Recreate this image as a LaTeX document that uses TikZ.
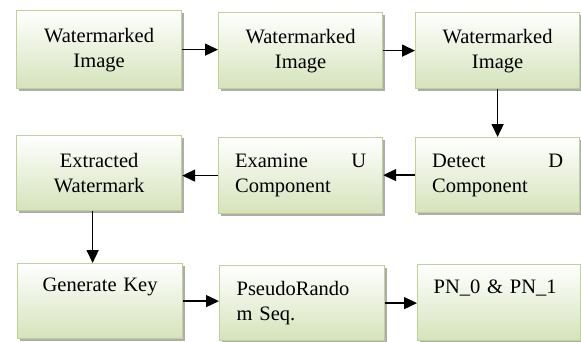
\documentclass[tikz,border=0pt]{standalone}
\usepackage{fontspec}
\setmainfont{Liberation Serif}[Ligatures=TeX]
\usetikzlibrary{shadows,arrows.meta}
\definecolor{boxline}{RGB}{190,210,150}
\definecolor{boxbot}{RGB}{213,227,186}
\tikzset{
  box/.style={draw=boxline, line width=1.2pt, top color=white, bottom color=boxbot,
    anchor=north west, inner sep=0pt, text width=131pt, align=center,
    font=\rmfamily\fontsize{20.5}{25}\selectfont,
    drop shadow={shadow xshift=2.5pt, shadow yshift=-2.5pt, fill=black!40, opacity=0.8}},
  lbox/.style={box, align=left},
  arr/.style={line width=1.5pt, -{Triangle[length=13pt,width=12pt]}}
}
\begin{document}
\begin{tikzpicture}[x=1pt,y=1pt]
\useasboundingbox (0,0) rectangle (581,-341);
\node[box, minimum width=165pt, minimum height=78pt] (b1) at (16,-10) {Watermarked\\Image};
\node[box, minimum width=164pt, minimum height=76pt] (b2) at (218,-12) {Watermarked\\Image};
\node[box, minimum width=164pt, minimum height=76pt] (b3) at (415,-12) {Watermarked\\Image};
\node[box, minimum width=165pt, minimum height=75pt] (b4) at (16,-135) {Extracted\\Watermark};
\node[lbox, minimum width=164pt, minimum height=76pt] (b5) at (218,-137) {Examine\hfill U\\Component};
\node[lbox, minimum width=164pt, minimum height=75pt] (b6) at (415,-137) {Detect\hfill D\\Component};
\node[box, minimum width=165pt, minimum height=75pt] (b7) at (17,-263) {Generate Key\\\strut};
\node[lbox, minimum width=165pt, minimum height=75pt] (b8) at (219,-265) {PseudoRando\\m Seq.};
\node[lbox, minimum width=163pt, minimum height=76pt] (b9) at (417,-264) {PN\_0 \& PN\_1\\\strut};
\draw[arr] (b1.east) -- (b2.west |- b1.east);
\draw[arr] (b2.east) -- (b3.west);
\draw[arr] (b3.south) -- (b6.north);
\draw[arr] (b6.west) -- (b5.east |- b6.west);
\draw[arr] (b5.west) -- (b4.east |- b5.west);
\draw[arr] ([xshift=-6.5pt]b4.south) -- ([xshift=-6.5pt]b4.south |- b7.north);
\draw[arr] (b7.east) -- (b8.west |- b7.east);
\draw[arr] (b8.east) -- (b9.west |- b8.east);
\end{tikzpicture}
\end{document}
